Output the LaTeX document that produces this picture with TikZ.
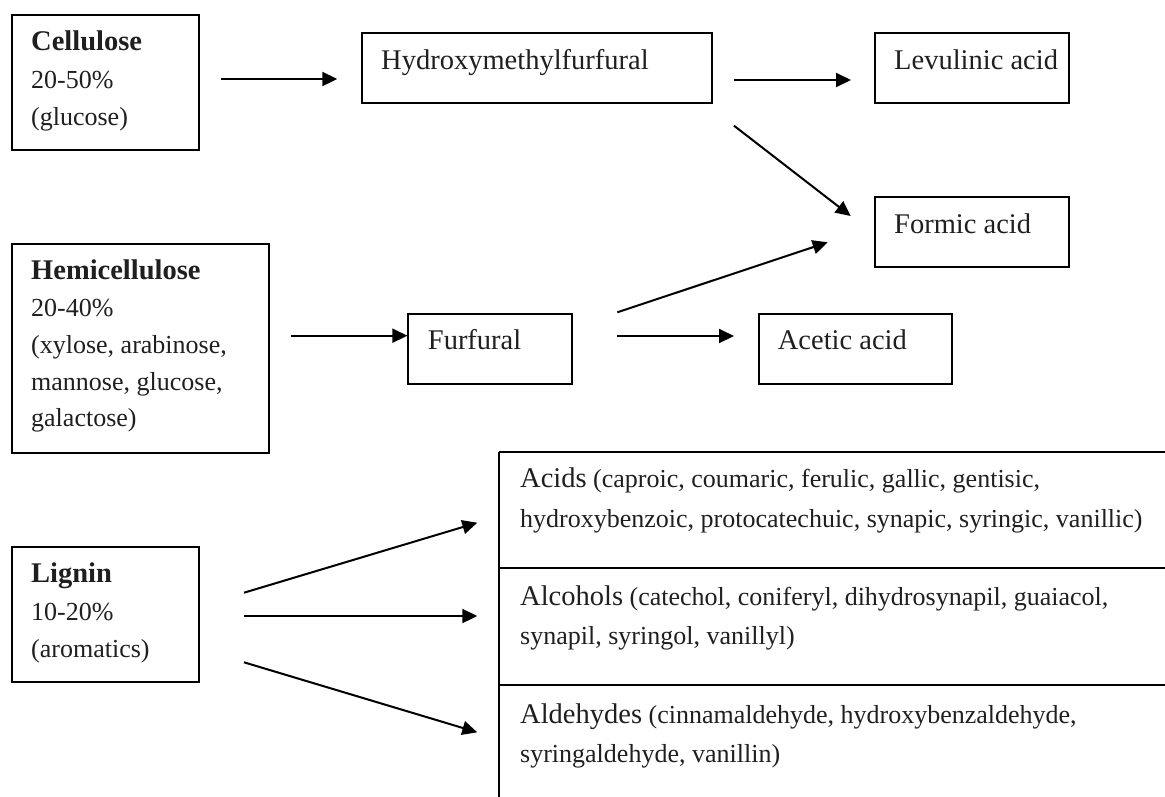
\documentclass[tikz,border=0pt]{standalone}
\usepackage{fontspec}
\setmainfont{Liberation Serif}
\usetikzlibrary{arrows.meta}
\newcommand\bigsz{\fontsize{28.5}{34}\selectfont}
\newcommand\smsz{\fontsize{26}{31}\selectfont}
\tikzset{
  box/.style={draw, line width=2pt, inner sep=0pt, anchor=north west},
  lbl/.style={inner sep=0pt, anchor=base west, font=\bigsz, text=black!88},
  sub/.style={inner sep=0pt, anchor=base west, font=\smsz, text=black!88},
  arr/.style={line width=2pt, -{Triangle[length=15pt,width=14pt]}},
  rule/.style={line width=2pt}
}
\begin{document}
\begin{tikzpicture}[x=1pt,y=-1pt]
\useasboundingbox (0,0) rectangle (1165,796);
% boxes
\node[box, minimum width=187.3pt, minimum height=135pt] (cell) at (10.7,14) {};
\node[box, minimum width=350pt, minimum height=70pt] (hmf) at (361,32) {};
\node[box, minimum width=194pt, minimum height=70pt] (lev) at (874,32) {};
\node[box, minimum width=194pt, minimum height=70pt] (form) at (874,196) {};
\node[box, minimum width=257.3pt, minimum height=209pt] (hemi) at (10.7,242.7) {};
\node[box, minimum width=163.6pt, minimum height=70pt] (furf) at (407.4,312.5) {};
\node[box, minimum width=193.3pt, minimum height=70pt] (acet) at (757.7,312.5) {};
\node[box, minimum width=187.3pt, minimum height=135.3pt] (lig) at (10.7,545.7) {};
% texts
\node[lbl, font=\bigsz\bfseries] (cellT) at (31,50.5) {Cellulose};
\node[sub] (cellP) at (31,88) {20-50\%};
\node[sub] (cellG) at (31,125.3) {(glucose)};
\node[lbl] (hmfT) at (381,69) {Hydroxymethylfurfural};
\node[lbl] (levT) at (894,69.3) {Levulinic acid};
\node[lbl] (formT) at (894,233) {Formic acid};
\node[lbl, font=\bigsz\bfseries] (hemiT) at (31,279.2) {Hemicellulose};
\node[sub] (hemiP) at (31,316) {20-40\%};
\node[sub] (hemi1) at (31,353) {(xylose, arabinose,};
\node[sub] (hemi2) at (31,390) {mannose, glucose,};
\node[sub] (hemi3) at (31,426) {galactose)};
\node[lbl] (furfT) at (427.7,349.5) {Furfural};
\node[lbl] (acetT) at (777.7,349.5) {Acetic acid};
\node[lbl, font=\bigsz\bfseries] (ligT) at (31,582.5) {Lignin};
\node[sub] (ligP) at (31,620) {10-20\%};
\node[sub] (ligA) at (31,657) {(aromatics)};
% table
\coordinate (t1l) at (499,452); \coordinate (t1r) at (1166,452);
\coordinate (t2l) at (499,568); \coordinate (t2r) at (1166,568);
\coordinate (t3l) at (499,685); \coordinate (t3r) at (1166,685);
\coordinate (tbl) at (499,797);
\draw[rule] (t1l) -- (t1r);
\draw[rule] (t2l) -- (t2r);
\draw[rule] (t3l) -- (t3r);
\draw[rule] (t1l) -- (tbl);
\node[sub] (acid1) at (520,487.5) {{\bigsz Acids} (caproic, coumaric, ferulic, gallic, gentisic,};
\node[sub] (acid2) at (520,527) {hydroxybenzoic, protocatechuic, synapic, syringic, vanillic)};
\node[sub] (alc1) at (520,605) {{\bigsz Alcohols} (catechol, coniferyl, dihydrosynapil, guaiacol,};
\node[sub] (alc2) at (520,644.5) {synapil, syringol, vanillyl)};
\node[sub] (ald1) at (520,723) {{\bigsz Aldehydes} (cinnamaldehyde, hydroxybenzaldehyde,};
\node[sub] (ald2) at (520,762) {syringaldehyde, vanillin)};
% arrow end points
\coordinate (a1s) at (220.7,79);  \coordinate (a1e) at (337.3,79);
\coordinate (a2s) at (734,80);    \coordinate (a2e) at (851,80);
\coordinate (a3s) at (734,125.7); \coordinate (a3e) at (850.7,216);
\coordinate (a4s) at (290.7,335.7); \coordinate (a4e) at (407.4,335.7);
\coordinate (a5s) at (617.3,312.3); \coordinate (a5e) at (827.7,242.3);
\coordinate (a6s) at (617.3,336); \coordinate (a6e) at (734,336);
\coordinate (a7s) at (244,592.7); \coordinate (a7e) at (477.3,522.7);
\coordinate (a8s) at (244,616);   \coordinate (a8e) at (477.3,616);
\coordinate (a9s) at (244,662.3); \coordinate (a9e) at (477.3,732.3);
\draw[arr] (a1s) -- (a1e);
\draw[arr] (a2s) -- (a2e);
\draw[arr] (a3s) -- (a3e);
\draw[arr] (a4s) -- (a4e);
\draw[arr] (a5s) -- (a5e);
\draw[arr] (a6s) -- (a6e);
\draw[arr] (a7s) -- (a7e);
\draw[arr] (a8s) -- (a8e);
\draw[arr] (a9s) -- (a9e);
\end{tikzpicture}
\end{document}
